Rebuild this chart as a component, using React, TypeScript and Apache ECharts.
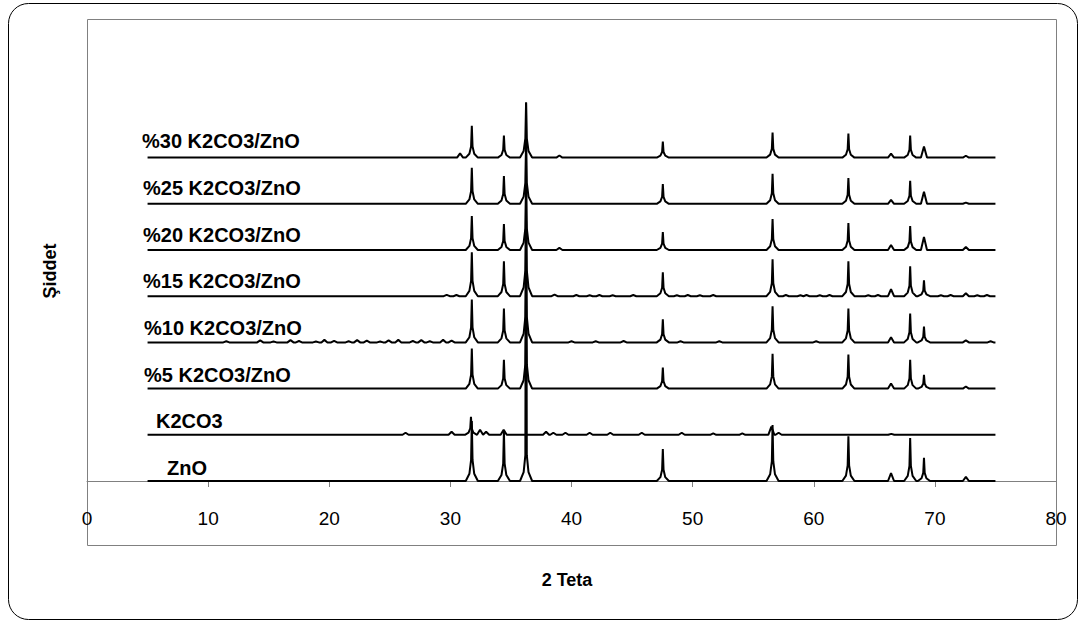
import React, { useEffect, useRef } from "react";
import * as echarts from "echarts";

// ---- data ----
const X_MIN = 0;
const X_MAX = 80;
const X_INTERVAL = 10;
const TRACE_START = 5;
const TRACE_END = 75;

const seriesNames = [
  "ZnO",
  "K2CO3",
  "%5 K2CO3/ZnO",
  "%10 K2CO3/ZnO",
  "%15 K2CO3/ZnO",
  "%20 K2CO3/ZnO",
  "%25 K2CO3/ZnO",
  "%30 K2CO3/ZnO",
];
const seriesOffsets = [0, 1000, 2000, 3000, 4000, 5000, 6000, 7000];

// ZnO reflections (2θ)
const zincOxidePeaks = [31.77, 34.42, 36.25, 47.54, 56.6, 62.86, 66.38, 67.96, 69.1, 72.56];
const znoIntensity = [1300, 1080, 8190, 690, 1210, 970, 170, 930, 500, 90];
const pct5Intensity = [865, 625, 1510, 455, 755, 735, 110, 625, 300, 45];
const pct10Intensity = [930, 735, 1620, 500, 780, 735, 110, 625, 345, 45];
const pct15Intensity = [950, 755, 1620, 520, 800, 755, 150, 650, 345, 65];
const pct20Intensity = [735, 560, 1340, 390, 670, 585, 110, 520, 280, 65];
const pct25Intensity = [780, 600, 1300, 430, 650, 560, 85, 500, 260, 25];
const pct30Intensity = [690, 475, 1190, 345, 540, 520, 85, 475, 240, 40];

// K2CO3 reflections
const k2co3Peaks = [26.3, 30.1, 31.7, 32.45, 32.95, 34.4, 37.9, 38.5, 39.5, 41.5, 43.2, 45.8, 49.1, 51.7, 54.1, 56.5, 57.1, 66.4];
const k2co3Intensity = [45, 65, 390, 110, 65, 110, 65, 45, 45, 45, 45, 45, 45, 30, 30, 175, 45, 20];

// minor features on the mixed samples
const pct10MinorPeaks = [11.5, 14.3, 15.4, 16.8, 17.5, 18.9, 19.6, 20.4, 21.6, 22.3, 23.1, 24.2, 24.9, 25.7, 26.9, 27.6, 28.3, 29.4, 30.1, 40.0, 42.0, 44.3, 49.0, 52.2, 60.2, 74.6];
const pct10MinorIntensity = [25, 45, 20, 50, 30, 20, 55, 35, 25, 50, 40, 20, 45, 55, 30, 50, 25, 55, 40, 25, 25, 30, 25, 25, 25, 25];
const pct15MinorPeaks = [29.7, 30.5, 38.6, 40.4, 41.5, 42.3, 43.4, 45.1, 48.7, 49.6, 50.6, 51.7, 57.7, 58.9, 59.4, 60.5, 61.3, 64.5, 65.3, 70.5, 71.3, 73.5, 74.3];
const pct15MinorIntensity = [30, 25, 35, 25, 20, 25, 20, 25, 20, 25, 20, 25, 25, 20, 25, 20, 25, 20, 25, 20, 25, 20, 25];
const pct20MinorPeaks = [39.0];
const pct20MinorIntensity = [45];
const pct30MinorPeaks = [30.8, 39.0];
const pct30MinorIntensity = [90, 45];

// ---- line profile template used to draw each reflection ----
const WIDE_DX = [-0.5, -0.2, -0.06, 0, 0.06, 0.2, 0.5];
const WIDE_FRAC = [0, 0.12, 0.35, 1, 0.35, 0.12, 0];
const SHOULDER_CAP = 1600;
const NARROW_DX = [-0.25, 0, 0.25];
const NARROW_FRAC = [0, 1, 0];

type Peak = { p: number; h: number };

function buildTrace(peaks: Peak[], offset: number): number[][] {
  const sorted = [...peaks].sort((a, b) => a.p - b.p);
  const pts: number[][] = [[TRACE_START, offset]];
  for (const { p, h } of sorted) {
    const wide = h >= 300;
    const dx = wide ? WIDE_DX : NARROW_DX;
    const fr = wide ? WIDE_FRAC : NARROW_FRAC;
    const base = Math.min(h, SHOULDER_CAP);
    for (let i = 0; i < dx.length; i++) {
      const v = fr[i] === 1 ? h : base * fr[i];
      pts.push([p + dx[i], offset + v]);
    }
  }
  pts.push([TRACE_END, offset]);
  return pts;
}

function zip(pos: number[], h: number[]): Peak[] {
  return pos.map((p, i) => ({ p, h: h[i] }));
}

const seriesPeaks: Peak[][] = [
  zip(zincOxidePeaks, znoIntensity),
  zip(k2co3Peaks, k2co3Intensity),
  zip(zincOxidePeaks, pct5Intensity),
  [...zip(zincOxidePeaks, pct10Intensity), ...zip(pct10MinorPeaks, pct10MinorIntensity)],
  [...zip(zincOxidePeaks, pct15Intensity), ...zip(pct15MinorPeaks, pct15MinorIntensity)],
  [...zip(zincOxidePeaks, pct20Intensity), ...zip(pct20MinorPeaks, pct20MinorIntensity)],
  zip(zincOxidePeaks, pct25Intensity),
  [...zip(zincOxidePeaks, pct30Intensity), ...zip(pct30MinorPeaks, pct30MinorIntensity)],
];

// label anchors (px) for the trace names
const labelLeft = [167, 156, 144, 144, 143, 143, 143, 142];
const labelCenterY = [468, 421, 375, 328, 281, 235, 188, 141];

export default function App() {
  const ref = useRef<HTMLDivElement>(null);
  useEffect(() => {
    if (!ref.current) return;
    const chart = echarts.init(ref.current, undefined, { renderer: "svg" });
    const font = "Liberation Sans, Arial, sans-serif";
    const frame = { left: 87, top: 19, right: 1056, bottom: 545 };

    const labelTexts = seriesNames.map((name, i) => ({
      type: "text",
      x: labelLeft[i],
      y: labelCenterY[i],
      silent: true,
      style: {
        text: name,
        font: `bold 20px ${font}`,
        fill: "#000",
        textAlign: "left",
        textVerticalAlign: "middle",
      },
      z: 10,
    }));

    chart.setOption({
      animation: false,
      backgroundColor: "#fff",
      grid: {
        left: frame.left,
        right: 1087 - frame.right,
        top: frame.top,
        bottom: 624 - 481,
        show: false,
      },
      xAxis: {
        type: "value",
        min: X_MIN,
        max: X_MAX,
        interval: X_INTERVAL,
        axisLine: { show: true, onZero: false, lineStyle: { color: "#808080", width: 1 } },
        axisTick: { show: true, inside: false, length: 6, lineStyle: { color: "#808080" } },
        axisLabel: { margin: 28, color: "#000", fontSize: 19, fontFamily: font },
        splitLine: { show: false },
      },
      yAxis: {
        type: "value",
        min: 0,
        max: 10000,
        axisLine: { show: false },
        axisTick: { show: false },
        axisLabel: { show: false },
        splitLine: { show: false },
      },
      graphic: [
        {
          type: "rect",
          shape: { x: 8.5, y: 3.5, width: 1069, height: 616, r: 20 },
          style: { fill: "none", stroke: "#000", lineWidth: 1 },
          silent: true,
          z: -10,
        },
        {
          type: "rect",
          shape: {
            x: frame.left + 0.5,
            y: frame.top + 0.5,
            width: frame.right - frame.left,
            height: frame.bottom - frame.top,
          },
          style: { fill: "none", stroke: "#808080", lineWidth: 1 },
          silent: true,
          z: -5,
        },
        {
          type: "text",
          x: 50,
          y: 271,
          rotation: Math.PI / 2,
          silent: true,
          style: {
            text: "Şiddet",
            font: `bold 18px ${font}`,
            fill: "#000",
            textAlign: "center",
            textVerticalAlign: "middle",
          },
        },
        {
          type: "text",
          x: 567,
          y: 580,
          silent: true,
          style: {
            text: "2 Teta",
            font: `bold 18px ${font}`,
            fill: "#000",
            textAlign: "center",
            textVerticalAlign: "middle",
          },
        },
        ...labelTexts,
      ],
      series: seriesNames.map((name, i) => ({
        name,
        type: "line",
        showSymbol: false,
        symbol: "none",
        data: buildTrace(seriesPeaks[i], seriesOffsets[i]),
        lineStyle: { color: "#000", width: 2 },
        z: 3,
      })),
    });
    return () => chart.dispose();
  }, []);
  return (
    <div
      ref={ref}
      style={{ position: "absolute", left: 0, top: 0, width: 1087, height: 624 }}
    />
  );
}
